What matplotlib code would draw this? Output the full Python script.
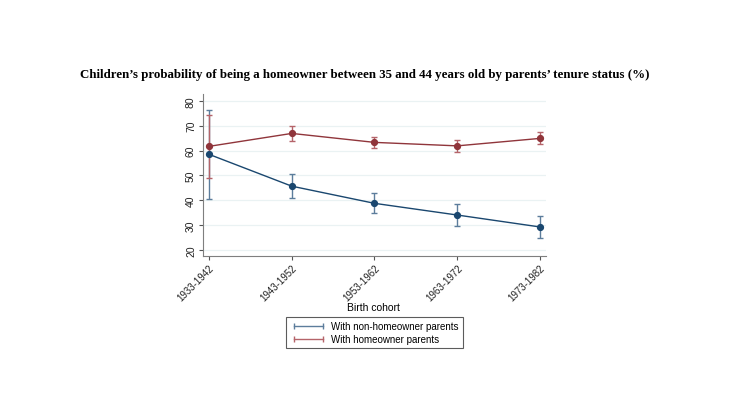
import numpy as np
import matplotlib.pyplot as plt
from matplotlib.lines import Line2D

cohorts = ['1933-1942', '1943-1952', '1953-1962', '1963-1972', '1973-1982']

# with non-homeowner parents
non_owner = [58.5, 45.7, 38.8, 34.1, 29.3]
non_owner_lo = [40.5, 41.0, 34.9, 29.7, 25.0]
non_owner_hi = [76.4, 50.7, 42.8, 38.4, 33.6]

# with homeowner parents
owner = [61.7, 66.9, 63.3, 61.9, 64.9]
owner_lo = [48.8, 63.9, 61.0, 59.5, 62.5]
owner_hi = [74.3, 70.0, 65.5, 64.3, 67.3]

navy = '#1a476f'
maroon = '#90353b'
navy_ci = '#5c7d9c'
maroon_ci = '#b5646a'

plt.rcParams['font.family'] = ['Liberation Sans', 'DejaVu Sans']

fig = plt.figure(figsize=(7.3, 4.1), dpi=100)
ax = fig.add_axes([0.278, 0.373, 0.470, 0.395])

x = np.arange(len(cohorts))

for y, lo, hi, c, cc in [(non_owner, non_owner_lo, non_owner_hi, navy, navy_ci),
                         (owner, owner_lo, owner_hi, maroon, maroon_ci)]:
    y = np.array(y)
    err = [y - np.array(lo), np.array(hi) - y]
    ax.errorbar(x, y, yerr=err, fmt='none', ecolor=cc, elinewidth=1.0,
                capsize=2.5, capthick=1.0, zorder=2)
    ax.plot(x, y, color=c, lw=1.0, marker='o', ms=4.2, zorder=3)

ax.set_xlim(-0.073, 4.073)
ax.set_ylim(17.6, 82.7)
ax.set_yticks([20, 30, 40, 50, 60, 70, 80])
ax.set_xticks(x)
ax.set_xticklabels(cohorts, rotation=45, ha='right', rotation_mode='anchor', fontsize=7)
for lab in ax.get_yticklabels():
    lab.set_rotation(90)
    lab.set_va('center')
    lab.set_fontsize(7.5)

ax.grid(axis='y', color='#eaf2f3', lw=0.9)
ax.set_axisbelow(True)
for s in ['top', 'right']:
    ax.spines[s].set_visible(False)
for s in ['left', 'bottom']:
    ax.spines[s].set_color('#7f7f7f')
    ax.spines[s].set_linewidth(0.8)
ax.tick_params(colors='#555555', labelcolor='#222222', length=3, width=0.8)
ax.tick_params(axis='x', pad=1.5)
ax.tick_params(axis='y', pad=2)

fig.text(0.512, 1 - 308 / 410, 'Birth cohort', ha='center', va='center', fontsize=7.5)

handles = [Line2D([0], [0], color=navy_ci, lw=1.0, marker='|', ms=4),
           Line2D([0], [0], color=maroon_ci, lw=1.0, marker='|', ms=4)]
leg = fig.legend(handles, ['With non-homeowner parents', 'With homeowner parents'],
                 loc='center', bbox_to_anchor=(0.513, 1 - 333.5 / 410), fontsize=7,
                 frameon=True, fancybox=False, handlelength=3.6, handletextpad=0.5,
                 borderpad=0.45, labelspacing=0.3, borderaxespad=0, numpoints=2)
leg.get_frame().set_edgecolor('#333333')
leg.get_frame().set_linewidth(0.8)

fig.text(0.5, 1 - 75 / 410,
         'Children\u2019s probability of being a homeowner between 35 and 44 years old by parents\u2019 tenure status (%)',
         ha='center', va='center', fontsize=9.3, fontweight='bold',
         family=['Liberation Serif', 'DejaVu Serif'])

fig.savefig('out.png', dpi=100)
